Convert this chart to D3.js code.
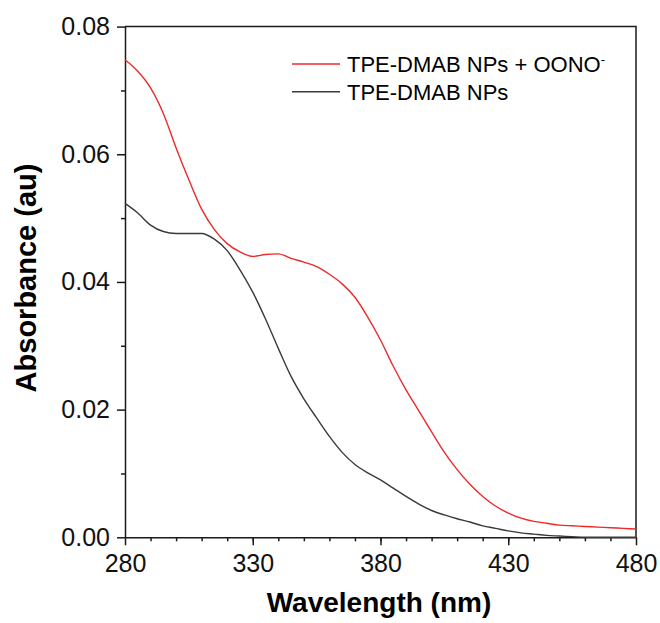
<!DOCTYPE html>
<html>
<head>
<meta charset="utf-8">
<script src="https://cdn.jsdelivr.net/npm/d3@7"></script>
<style>
  body { margin: 0; background: #fff; }
  svg { font-family: "Liberation Sans", Arial, sans-serif; }
  .axis path, .axis line { stroke: #1a1a1a; stroke-width: 1.5; }
  .axis text { font-size: 25px; fill: #111; }
</style>
</head>
<body>
<div class="container"></div>
<script>
const WIDTH = 660;
const HEIGHT = 623;
const LEFT = 125, RIGHT = 636, TOP = 26.6, BOTTOM = 537.3;

// wavelength (nm), every 5 nm
const wavelengths = [280,285,290,295,300,305,310,315,320,325,330,335,340,345,350,355,360,365,370,375,
  380,385,390,395,400,405,410,415,420,425,430,435,440,445,450,455,460,465,470,475,480];

// TPE-DMAB NPs + OONO-
const absOONO = [0.0748,0.0730,0.0704,0.0664,0.0610,0.0560,0.0514,0.0482,0.0460,0.0447,0.0440,0.0443,0.0444,0.0437,0.0431,0.0424,0.0412,0.0397,0.0376,0.0345,
  0.0309,0.0268,0.0231,0.0198,0.0165,0.0133,0.0106,0.0083,0.0064,0.0049,0.0038,0.0030,0.0025,0.0022,0.0019,0.0018,0.0017,0.0016,0.0015,0.0014,0.0013];

// TPE-DMAB NPs
const absNPs = [0.0523,0.0508,0.0489,0.0479,0.0476,0.0476,0.0476,0.0467,0.0449,0.0419,0.0384,0.0342,0.0296,0.0252,0.0217,0.0187,0.0158,0.0133,0.0114,0.0101,
  0.0090,0.0077,0.0064,0.0052,0.0042,0.0035,0.0029,0.0024,0.0018,0.0014,0.0010,0.0007,0.0005,0.0003,0.0002,0.0001,0.0000,0.0000,0.0000,0.0000,0.0000];

const xTicks = [280,330,380,430,480];
const yTicks = [0.00,0.02,0.04,0.06,0.08];
const xMinor = d3.range(290, 480, 10);
const yMinor = [0.01,0.03,0.05,0.07];

const seriesNames = ["TPE-DMAB NPs + OONO", "TPE-DMAB NPs"];
const seriesColors = ["#ec2a2a", "#3a3a3a"];

const xScale = d3.scaleLinear().domain([280, 480]).range([LEFT, RIGHT]);
const yScale = d3.scaleLinear().domain([0, 0.08]).range([BOTTOM, TOP]);

const svg = d3.select('.container').append('svg')
    .attr('width', WIDTH)
    .attr('height', HEIGHT);

// frame (top and right)
svg.append('path')
    .attr('d', 'M' + LEFT + ',' + TOP + 'H' + RIGHT + 'V' + BOTTOM)
    .attr('fill', 'none')
    .attr('stroke', '#1a1a1a')
    .attr('stroke-width', 1.5);

// minor ticks
svg.append('g').attr('class', 'axis')
    .attr('transform', 'translate(0,' + BOTTOM + ')')
    .call(d3.axisBottom(xScale).tickValues(xMinor).tickSize(4).tickFormat(''))
    .select('.domain').remove();
svg.append('g').attr('class', 'axis')
    .attr('transform', 'translate(' + LEFT + ',0)')
    .call(d3.axisLeft(yScale).tickValues(yMinor).tickSize(4).tickFormat(''))
    .select('.domain').remove();

// major axes
svg.append('g').attr('class', 'axis')
    .attr('transform', 'translate(0,' + BOTTOM + ')')
    .call(d3.axisBottom(xScale).tickValues(xTicks).tickSize(8).tickPadding(9).tickSizeOuter(0).tickFormat(d3.format('d')));
svg.append('g').attr('class', 'axis')
    .attr('transform', 'translate(' + LEFT + ',0)')
    .call(d3.axisLeft(yScale).tickValues(yTicks).tickSize(8).tickPadding(7).tickSizeOuter(0).tickFormat(d3.format('.2f')));

// curves
const line = d3.line()
    .x(function(d){ return xScale(d[0]); })
    .y(function(d){ return yScale(d[1]); })
    .curve(d3.curveMonotoneX);

[absOONO, absNPs].forEach(function(vals, i){
    svg.append('path')
        .datum(wavelengths.map(function(w, j){ return [w, vals[j]]; }))
        .attr('d', line)
        .attr('fill', 'none')
        .attr('stroke', seriesColors[i])
        .attr('stroke-width', 1.4);
});

// axis titles
svg.append('text')
    .attr('x', 379)
    .attr('y', 612)
    .attr('text-anchor', 'middle')
    .style('font-size', '28px')
    .style('font-weight', 'bold')
    .text('Wavelength (nm)');

svg.append('text')
    .attr('transform', 'translate(36,278) rotate(-90)')
    .attr('text-anchor', 'middle')
    .style('font-size', '29px')
    .style('font-weight', 'bold')
    .text('Absorbance (au)');

// legend
const legend = svg.append('g');
seriesNames.forEach(function(name, i){
    const y = 64 + i * 27.7;
    legend.append('line')
        .attr('x1', 292).attr('x2', 340)
        .attr('y1', y).attr('y2', y)
        .attr('stroke', seriesColors[i])
        .attr('stroke-width', 1.4);
    const t = legend.append('text')
        .attr('x', 347)
        .attr('y', y + 8)
        .style('font-size', '22px')
        .text(name);
    if (i === 0) {
        t.append('tspan')
            .attr('dy', -8)
            .style('font-size', '13px')
            .text('-');
    }
});
</script>
</body>
</html>
